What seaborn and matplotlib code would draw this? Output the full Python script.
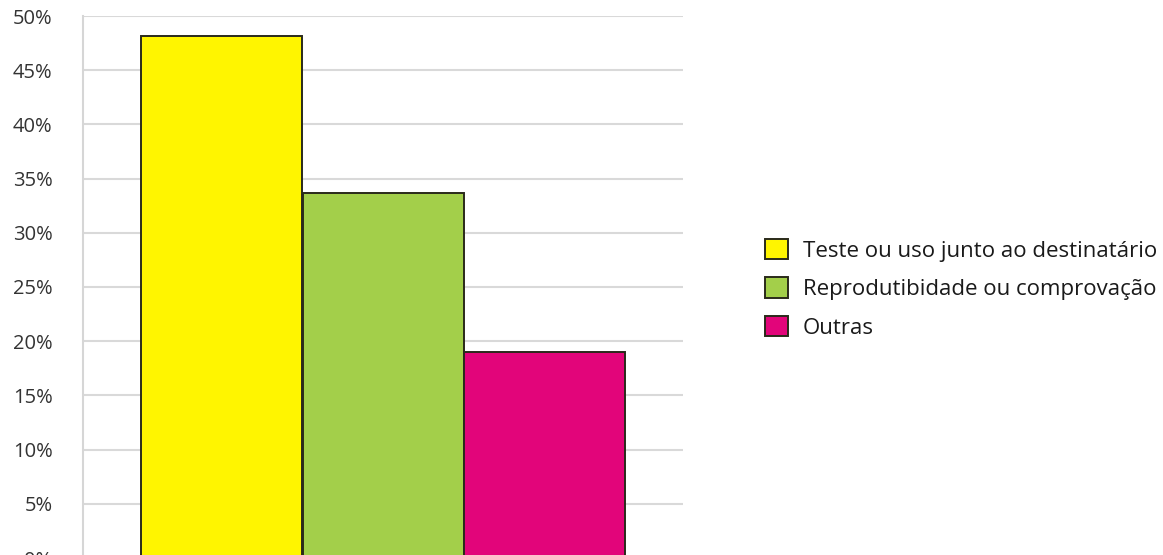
import matplotlib
matplotlib.use("Agg")
import matplotlib.pyplot as plt
import pandas as pd
import seaborn as sns

# Share of responses per category
categories = ["Teste ou uso junto ao destinatário",
              "Reprodutibidade ou comprovação",
              "Outras"]
values = [48.2, 33.7, 19.0]
colors = ["#FFF500", "#A3CF4A", "#E2057A"]
ytick_values = [0, 5, 10, 15, 20, 25, 30, 35, 40, 45, 50]
ytick_labels = [f"{v}%" for v in ytick_values]

df = pd.DataFrame({"grupo": [""] * len(categories),
                   "categoria": categories,
                   "valor": values})

sns.set_style("white")
plt.rcParams["font.family"] = ["Open Sans", "DejaVu Sans"]

fig = plt.figure(figsize=(11.63, 5.55), dpi=100)
ax = fig.add_axes([83 / 1163, -3 / 555, 600 / 1163, 542 / 555])

sns.barplot(data=df, x="grupo", y="valor", hue="categoria",
            palette=colors, width=0.805, dodge=True,
            edgecolor="#2a2a1a", linewidth=1.4, saturation=1, ax=ax)

ax.set_ylim(0, 50)
ax.set_xlim(-0.5, 0.5)
ax.set_yticks(ytick_values)
ax.set_yticklabels(ytick_labels, fontsize=14.5, color="#333333")
ax.set_xticks([])
ax.set_xlabel("")
ax.set_ylabel("")
ax.yaxis.grid(True, color="#d9d9d9", linewidth=1.5)
ax.set_axisbelow(True)
ax.tick_params(axis="y", length=0, pad=22)
for side in ["top", "right", "bottom"]:
    ax.spines[side].set_visible(False)
ax.spines["left"].set_color("#d6d6d6")
ax.spines["left"].set_linewidth(1.5)

handles, labels = ax.get_legend_handles_labels()
ax.get_legend().remove()
fig.legend(handles, labels, loc="upper left",
           bbox_to_anchor=(765 / 1163, 1 - 239 / 555),
           bbox_transform=fig.transFigure,
           frameon=False, fontsize=16, borderpad=0, borderaxespad=0,
           handlelength=1.04, handleheight=1.04, handletextpad=0.66,
           labelspacing=0.7, labelcolor="#1a1a1a")

fig.savefig("out.png", dpi=100)
